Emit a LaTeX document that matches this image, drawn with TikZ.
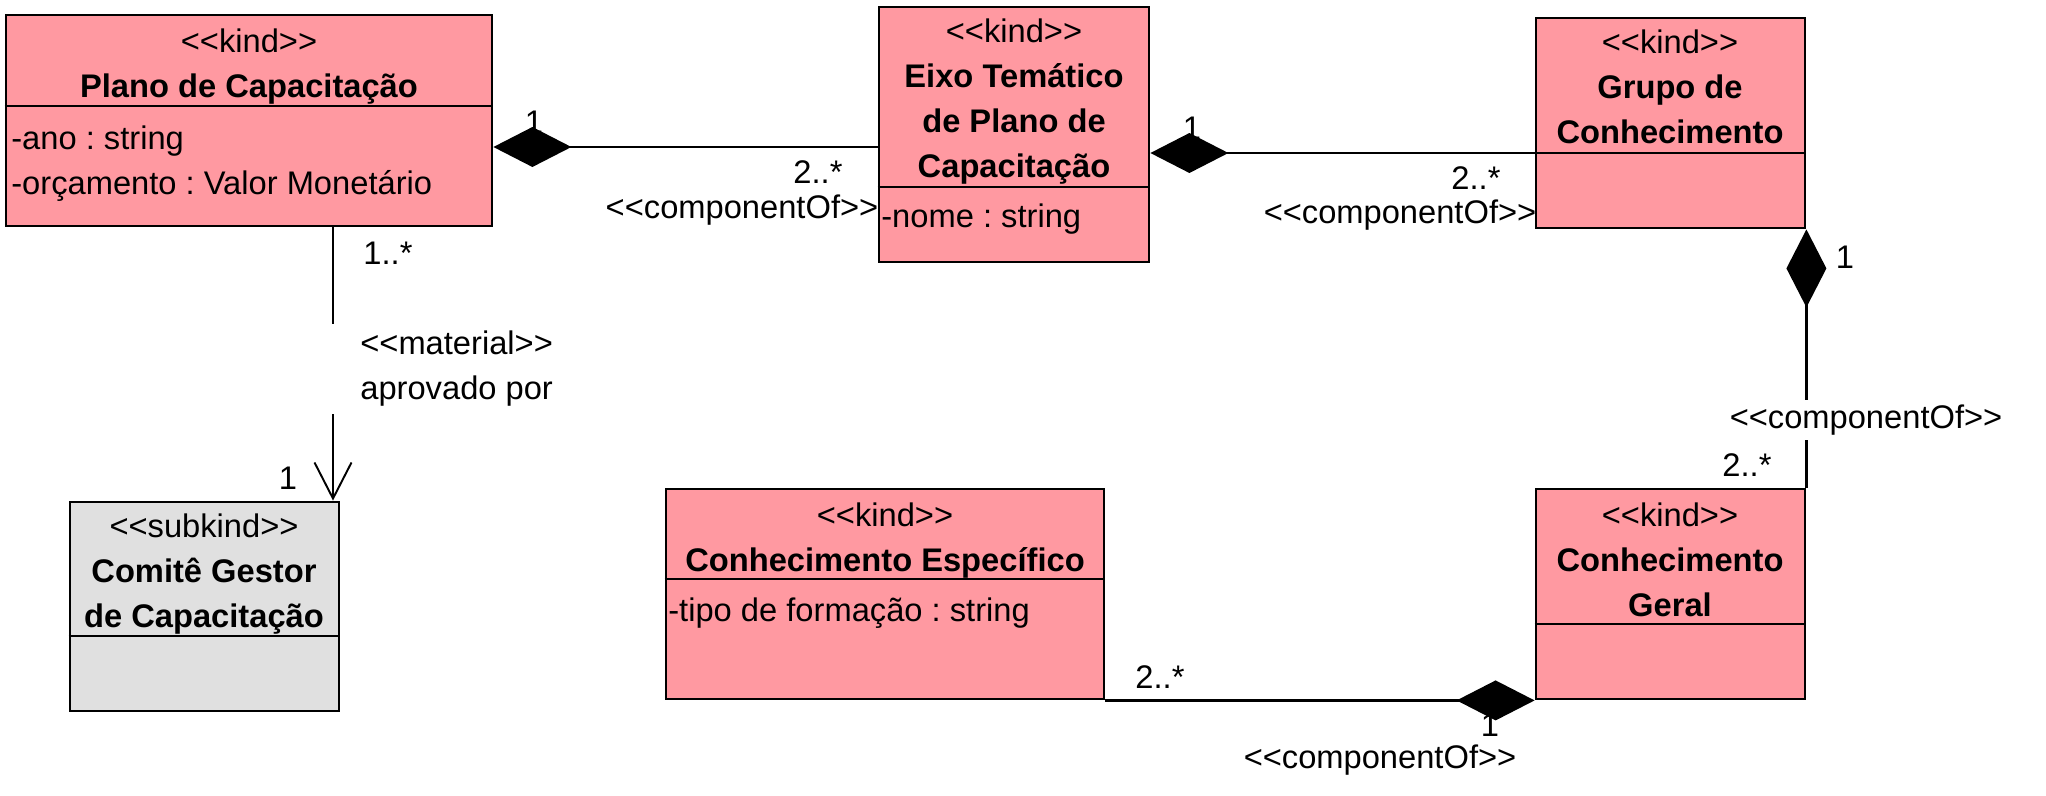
\documentclass[tikz,border=0pt]{standalone}
\usepackage{fontspec}
\newfontfamily\umlfont{Liberation Sans}
\usetikzlibrary{arrows.meta,fit}
\frenchspacing

\definecolor{kindpink}{RGB}{255,153,161}
\definecolor{subgray}{RGB}{224,224,224}

\tikzset{
  kindbox/.style={draw, line width=1.6pt, fill=kindpink, inner sep=0pt},
  subkindbox/.style={kindbox, fill=subgray},
  divline/.style={line width=1.6pt},
  compline/.style={line width=1.3pt, {Diamond[length=1.56cm,width=0.8cm]}-},
  matline/.style={line width=1.1pt, -{Straight Barb[length=0.72cm,width=0.74cm]}},
  lbl/.style={inner sep=1pt},
  head/.style={anchor=base, align=center, inner sep=0pt},
  attr/.style={anchor=base west, align=left, inner sep=0pt}
}

\begin{document}
\begin{tikzpicture}[x=0.02cm,y=-0.02cm,
    every node/.style={font=\umlfont\fontsize{18.6}{25.6}\selectfont\frenchspacing}]
  \useasboundingbox (0,0) rectangle (2046,795);

  % classes
  \node[kindbox, fit={(6,15) (492,226)}] (plano) {};
  \node[kindbox, fit={(879,7) (1149,262)}] (eixo) {};
  \node[kindbox, fit={(1536,18) (1805,228)}] (grupo) {};
  \node[kindbox, fit={(1536,489) (1805,699)}] (geral) {};
  \node[kindbox, fit={(666,489) (1104,699)}] (espec) {};
  \node[subkindbox, fit={(70,502) (339,711)}] (comite) {};

  \foreach \c/\y in {plano/106, eixo/187, grupo/153, geral/624, espec/579, comite/636}
    \draw[divline] (\c.west |- 0,\y) -- (\c.east |- 0,\y);

  % base of the last line
  \node[head] (planoh) at (249,97) {<<kind>>\\\textbf{Plano de Capacitação}};
  \node[head] (eixoh) at (1014,177) {<<kind>>\\\textbf{Eixo Temático}\\\textbf{de Plano de}\\\textbf{Capacitação}};
  \node[head] (grupoh) at (1670,143) {<<kind>>\\\textbf{Grupo de}\\\textbf{Conhecimento}};
  \node[head] (geralh) at (1670,616) {<<kind>>\\\textbf{Conhecimento}\\\textbf{Geral}};
  \node[head] (espech) at (885,571) {<<kind>>\\\textbf{Conhecimento Específico}};
  \node[head] (comiteh) at (204,627) {<<subkind>>\\\textbf{Comitê Gestor}\\\textbf{de Capacitação}};

  \node[attr] (planoa) at (11,194) {-ano : string\\-orçamento : Valor Monetário};
  \node[attr] (eixoa) at (881,227) {-nome : string};
  \node[attr] (especa) at (668,621) {-tipo de formação : string};

  % associations
  \coordinate (pe) at (eixo.west |- 0,147);
  \draw[compline] (plano.east |- pe) -- (pe);
  \coordinate (eg) at (grupo.west |- 0,153);
  \draw[compline] (eixo.east |- eg) -- (eg);
  \draw[compline] (grupo.south east) -- (geral.north east);
  \node[lbl] (ge1) at (1490,725) {1};
  \draw[compline] (geral.south west) -- (espec.south east);
  \coordinate (pc) at (plano.south -| 333,0);
  \draw[matline] (pc) -- (comite.north -| pc);

  % association labels
  \node[lbl] (pe1) at (534,122) {1};
  \node[lbl] (pe2) at (818,172) {2..*};
  \node[lbl] (pes) at (742,210) {<<componentOf>>};
  \node[lbl] (eg1) at (1192,128) {1};
  \node[lbl] (eg2) at (1476,178) {2..*};
  \node[lbl] (egs) at (1400,215) {<<componentOf>>};
  \node[lbl] (gg1) at (1845,257) {1};
  \node[lbl, fill=white, inner sep=3pt] (ggs) at (1866,420) {<<componentOf>>};
  \node[lbl] (gg2) at (1747,465) {2..*};
  \node[lbl] (ge2) at (1160,677) {2..*};
  \node[lbl] (ges) at (1380,760) {<<componentOf>>};
  \node[lbl] (pc2) at (388,253) {1..*};
  \node[lbl] (pc1) at (288,478) {1};
  \node[fill=white, anchor=west, align=left, inner xsep=0.58cm, inner ysep=0.15cm] (mat) at (331,369) {<<material>>\\aprovado por};
\end{tikzpicture}
\end{document}
